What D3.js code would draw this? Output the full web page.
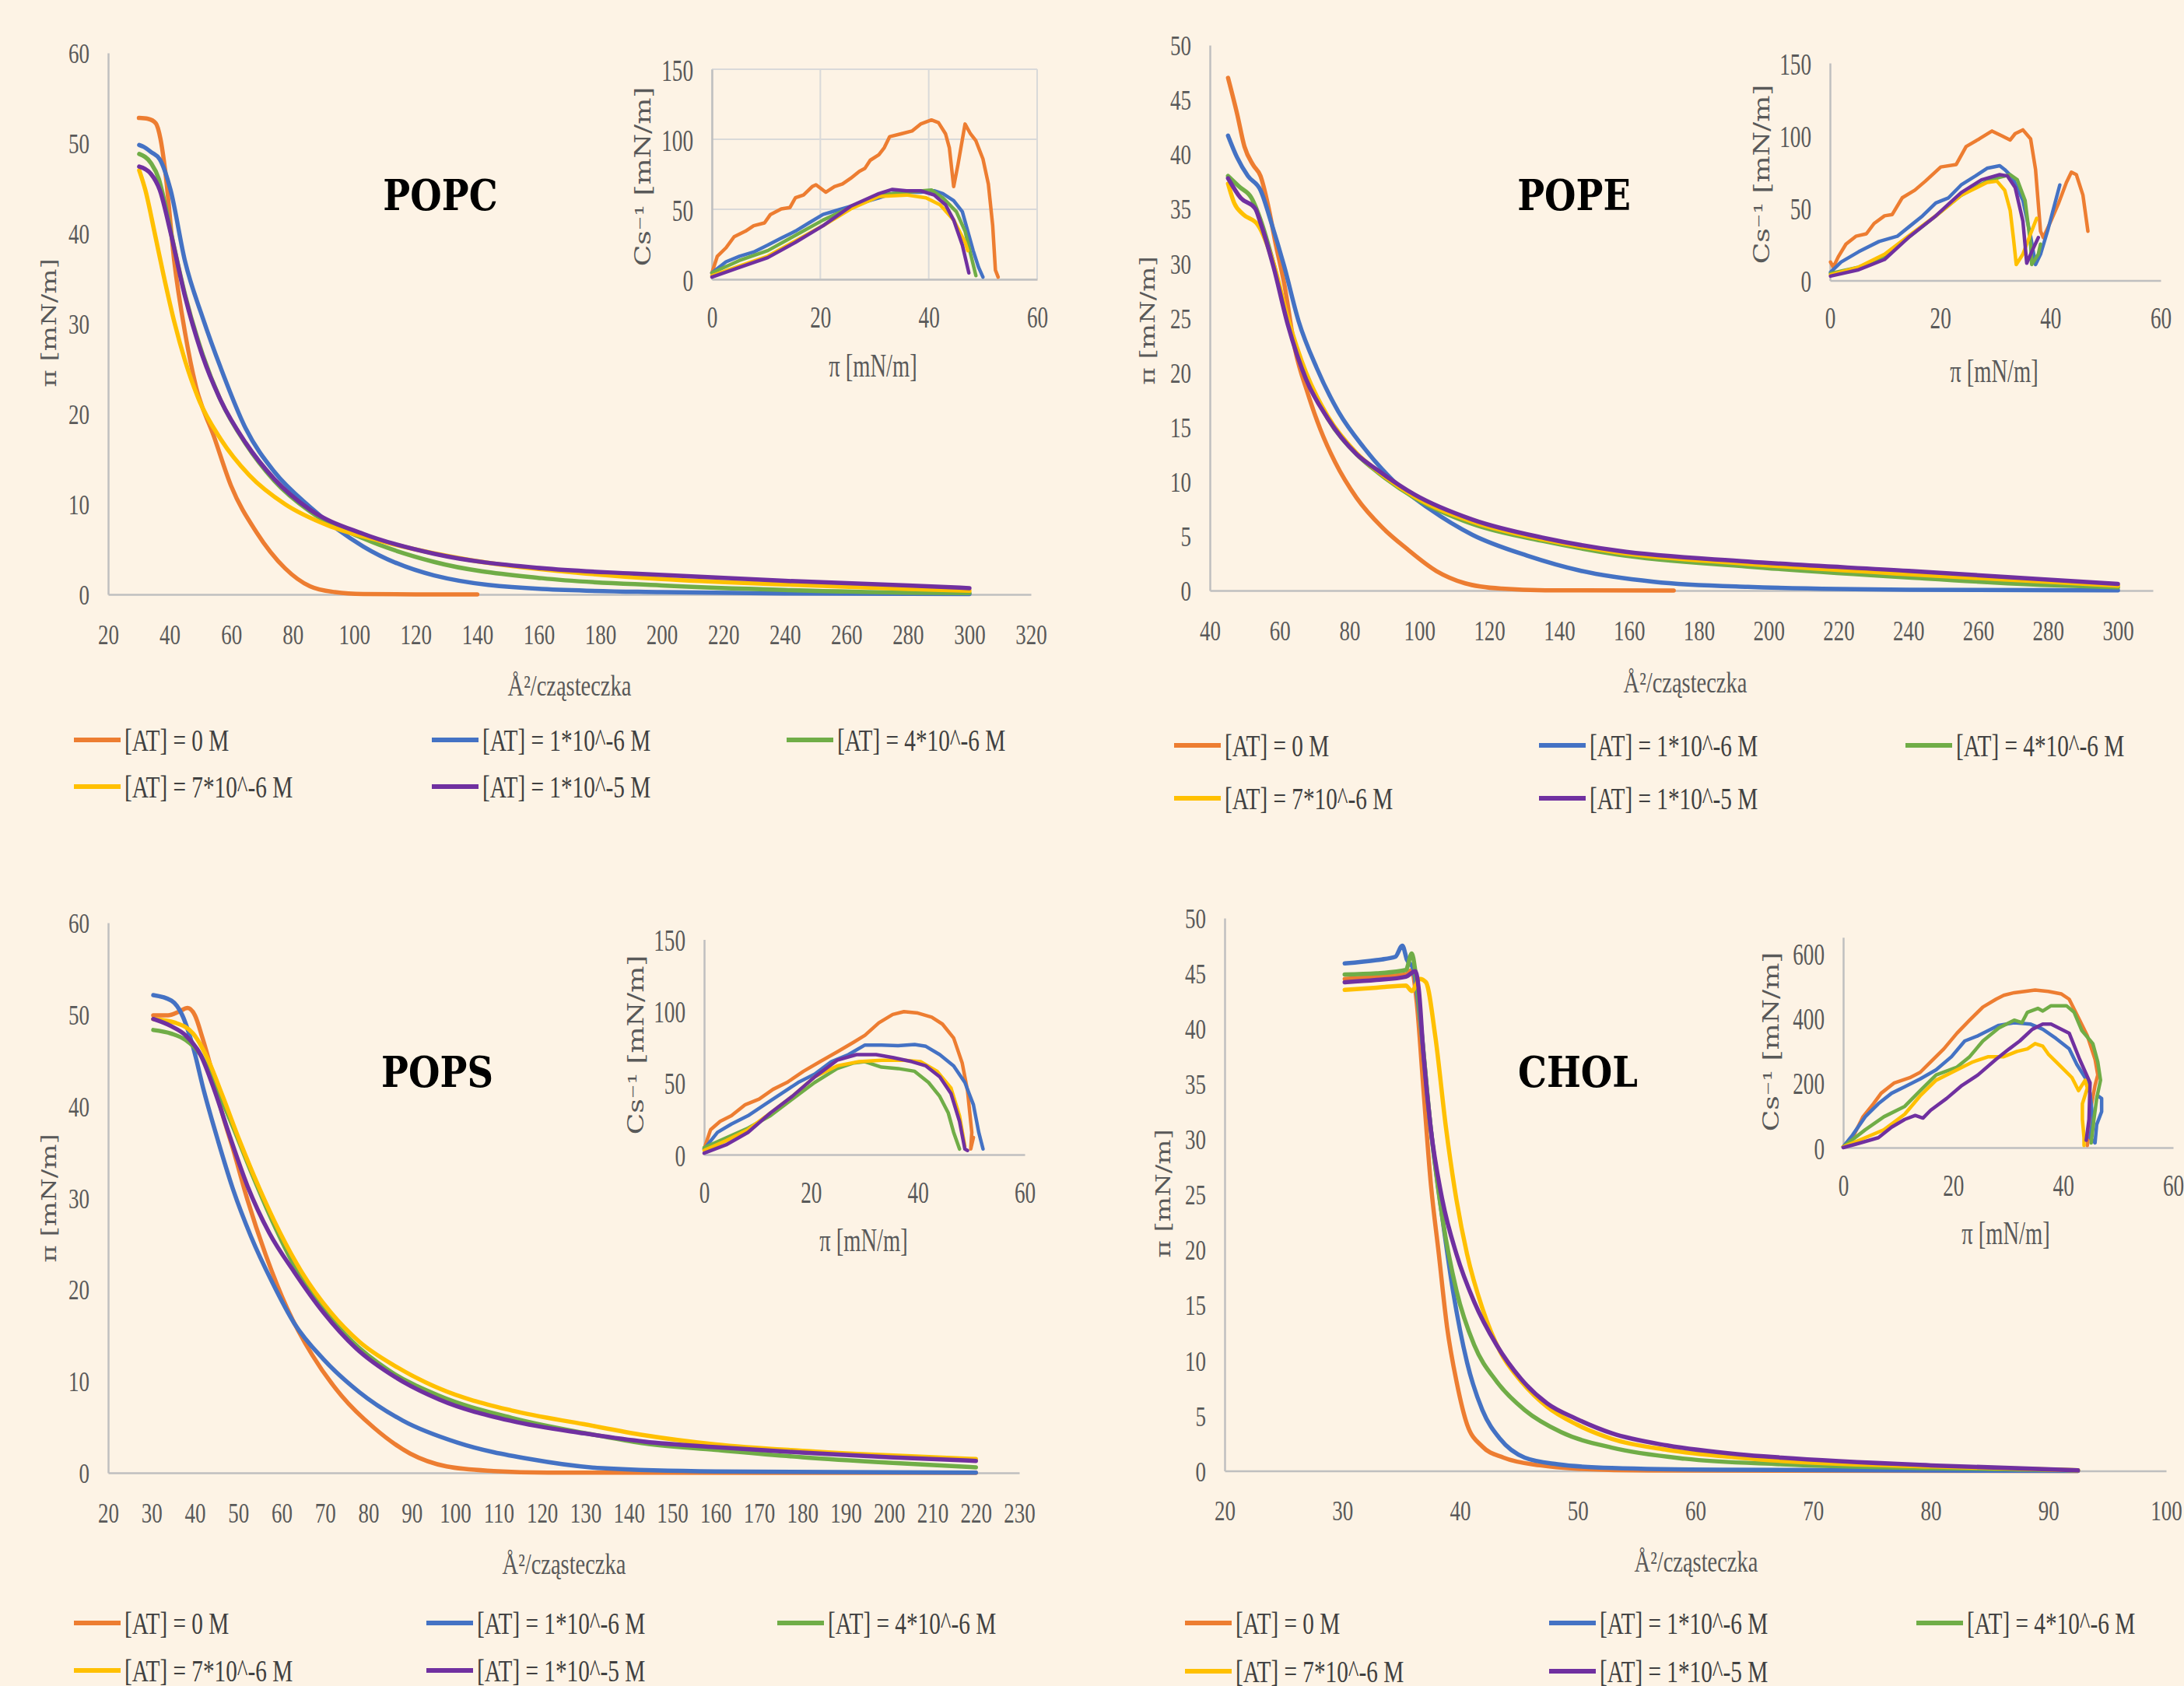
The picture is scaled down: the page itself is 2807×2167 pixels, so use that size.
<!DOCTYPE html>
<html><head><meta charset="utf-8">
<script src="https://cdn.jsdelivr.net/npm/d3@7"></script>
<style>body{margin:0;background:#FDF3E5;} svg{display:block}</style>
</head><body>
<script>
// ---------------- DATA ----------------
const seriesLabels = ["[AT] = 0 M", "[AT] = 1*10^-6 M", "[AT] = 4*10^-6 M", "[AT] = 7*10^-6 M", "[AT] = 1*10^-5 M"];
const seriesColors = ["#ED7D31", "#4472C4", "#70AD47", "#FFC000", "#7030A0"];
const panelNames = ["POPC", "POPE", "POPS", "CHOL"];

const popcXTicks = [20,40,60,80,100,120,140,160,180,200,220,240,260,280,300,320];
const popcYTicks = [0,10,20,30,40,50,60];
const popeXTicks = [40,60,80,100,120,140,160,180,200,220,240,260,280,300];
const popeYTicks = [0,5,10,15,20,25,30,35,40,45,50];
const popsXTicks = [20,30,40,50,60,70,80,90,100,110,120,130,140,150,160,170,180,190,200,210,220,230];
const popsYTicks = [0,10,20,30,40,50,60];
const cholXTicks = [20,30,40,50,60,70,80,90,100];
const cholYTicks = [0,5,10,15,20,25,30,35,40,45,50];
const insetXTicks = [0,20,40,60];
const insetYTicks150 = [0,50,100,150];
const cholInsetYTicks = [0,200,400,600];

// isotherms: [area (Å²/cząsteczka), π (mN/m)]
const popcIso = [
 [[30,52.8],[33,52.7],[35.5,52.2],[37,50.5],[38.6,46.8],[41.5,36.9],[45,29.0],[48.5,23.1],[54.3,17.6],[60,12.0],[68.2,6.9],[77.5,2.9],[85.6,0.9],[93.7,0.26],[103,0.05],[120,0.01],[140,0]],
 [[30.1,49.8],[31.5,49.6],[34,49],[36.8,48.2],[40.3,44.8],[45,36.9],[50.8,30.6],[56.6,25.1],[64.7,18.4],[74,13.6],[85.6,9.7],[103,5.3],[126,2.1],[161,0.6],[200,0.25],[240,0.1],[300,0.05]],
 [[30.1,48.8],[33.9,47.8],[36.5,46],[38,44],[40.3,40.3],[45,33.2],[50.8,26.5],[56.6,21.5],[64.7,16.7],[74,12.6],[85.6,9.2],[103,6.2],[126,3.6],[161,1.8],[200,1.0],[240,0.5],[280,0.2],[300,0.15]],
 [[30.1,47.0],[32.1,44.8],[35.1,40.1],[38,35.4],[41.5,30.2],[45,25.9],[49.6,21.5],[56.6,17.2],[65.9,13.2],[77.5,10.0],[91.4,7.65],[108.8,5.9],[137.9,3.8],[172.7,2.4],[200,1.7],[240,1.1],[280,0.6],[300,0.4]],
 [[30.1,47.4],[33.9,46.6],[36.8,44.8],[40.3,40.1],[45,33.0],[50.8,26.3],[56.6,21.5],[64.7,16.8],[74,12.8],[85.6,9.4],[103,6.7],[126,4.5],[161,2.9],[191,2.3],[240,1.5],[280,1.0],[300,0.7]]
];
// compressibility modulus: [π, Cs^-1]
const popcCs = [
 [[0,4.6],[1,16.5],[2.6,22.5],[4.1,30.4],[6.2,34.4],[7.7,38.3],[9.7,40.3],[10.8,46.3],[12.8,50.3],[14.4,51.3],[15.4,58.2],[16.9,60.2],[18.5,66.2],[19.2,67.5],[21,62.2],[22.6,66.2],[24.1,68.1],[25.6,72.1],[27.2,77.1],[28.2,79.1],[29.2,85],[30.8,89],[31.8,94],[32.8,101.9],[34.9,103.9],[36.9,105.9],[38.5,110.9],[40.5,113.8],[41.8,111.9],[43.1,103.9],[43.8,94],[44.6,66.2],[45.4,82],[46.7,110.9],[47.7,103.9],[48.7,98.9],[50,86],[51,68.1],[51.8,38.3],[52.3,6.6],[52.8,1.6]],
 [[0,4.6],[2.6,12.5],[5.1,16.5],[7.7,19.5],[10.3,24.4],[12.8,29.4],[15.4,34.4],[17.9,40.3],[20.5,46.3],[23.1,49.3],[25.6,52.2],[28.2,55.2],[30.8,58.2],[33.3,61.2],[35.9,62.2],[38.5,62.2],[41,63.2],[42.6,61.2],[44.6,56.2],[46.2,48.3],[47.2,34.4],[48.2,20.5],[49.2,8.5],[50,1.6]],
 [[0,4.6],[5.1,13.5],[10.3,20.5],[15.4,31.4],[20.5,42.3],[25.6,51.3],[30.8,60.2],[35.9,62.2],[40.5,63.8],[42.6,58.2],[45.1,48.3],[46.7,34.4],[47.7,18.5],[48.7,2.6]],
 [[0,2.6],[5.1,9.5],[10.3,16.5],[15.4,27.4],[20.5,38.3],[25.6,50.3],[30.8,59.2],[35.9,60.2],[39.5,58.2],[42.1,53.2],[44.6,42.3],[46.7,26.4],[47.2,20.5]],
 [[0,1.6],[5.1,8.5],[10.3,15.5],[15.4,26.4],[20.5,38.3],[25.6,52.2],[30.8,61.2],[33.3,64.2],[35.9,63.2],[38.5,63.2],[41,60.2],[43.1,53.2],[44.6,42.3],[46.2,24.4],[47.4,4.6]]
];

const popeIso = [
 [[45.2,47],[47.8,43.7],[49.9,40.7],[52.4,39],[54.5,38],[56.6,35.4],[58.7,32],[61.3,28.1],[64.4,22.1],[68,18.1],[71.6,14.8],[75.8,11.8],[82,8.5],[89.3,5.8],[96.5,3.8],[104.8,1.8],[113.1,0.66],[123.5,0.17],[136,0.02],[172.8,0]],
 [[45.2,41.7],[47.8,39.7],[50.9,38],[54.5,36.7],[57.6,33.7],[61.3,29.7],[65.4,24.7],[70.6,20.4],[76.8,16.4],[84.1,13.1],[92.4,10.1],[102.8,7.5],[115.2,5.1],[130.8,3.2],[146.3,1.8],[167.1,0.8],[194,0.33],[240,0.08],[300,0.02]],
 [[45.2,38],[48.5,37],[51.9,36],[54.5,34],[58.2,30],[62.3,24.7],[67.5,19.8],[73.7,15.8],[82,12.5],[88.2,10.8],[98.6,8.5],[115.2,6.1],[136,4.5],[156.7,3.3],[194,2.2],[240,1.2],[280,0.5],[300,0.3]],
 [[45.2,37.3],[47,35.5],[49.5,34.5],[53.8,33.5],[58.2,30],[62.3,25],[67.5,20],[73.7,16],[82,12.6],[88.2,10.9],[98.6,8.6],[115.2,6.3],[136,4.65],[156.7,3.5],[194,2.45],[240,1.5],[280,0.8],[300,0.45]],
 [[45.2,37.8],[48.8,36],[53,35],[54.5,33.7],[58.2,29.7],[62.3,24.4],[67.5,19.4],[73.7,15.8],[82,12.5],[88.2,11],[98.6,8.8],[115.2,6.5],[136,4.8],[156.7,3.65],[194,2.66],[240,1.8],[280,1.0],[300,0.6]]
];
const popeCs = [
 [[0.1,12.7],[0.6,9.2],[1.5,16.3],[2.9,25.1],[4.7,30.5],[6.6,32.2],[8,39.3],[9.9,44.6],[11.3,45.5],[13.1,57],[15.4,62.3],[17.3,68.5],[20.1,78.3],[22.9,80],[24.7,92.4],[27.1,97.7],[29.4,103.1],[31.3,99.5],[32.7,96.9],[33.6,101.3],[35,103.9],[36.4,97.7],[37.3,76.5],[38.2,34],[38.7,29.6],[40.1,41.1],[41.5,53.5],[42.9,67.6],[43.8,74.7],[44.7,73],[45.9,58.8],[46.8,34]],
 [[0.1,5.7],[2,12.7],[5.2,19.8],[8.9,26.9],[12.2,30.5],[14.5,37.5],[16.8,44.6],[19.2,53.5],[21.5,57],[23.8,65.9],[26.4,72.1],[28.5,77.4],[30.8,79.2],[31.7,76.5],[33.1,71.2],[35,55.2],[36.4,30.5],[37.3,11],[38.2,18.1],[39.6,35.8],[41.7,65.9]],
 [[0.1,4.8],[5.2,9.2],[9.9,16.3],[14.5,30.5],[19.2,44.6],[23.8,58.8],[28.5,68.5],[30.8,71.2],[32.7,73],[34,69.4],[35.4,55.2],[36.4,25.1],[36.6,11],[37.8,18.1],[38.2,25.1]],
 [[0.1,3.9],[5.2,9.2],[9.9,18.1],[14.5,31.4],[19.2,44.6],[23.8,58.8],[28.5,67.6],[30.3,68.5],[31.7,62.3],[32.7,48.2],[33.3,28.7],[33.8,11],[35,18.1],[36.4,32.2],[37.5,42.9]],
 [[0.1,3],[5.2,7.4],[9.9,14.5],[14.5,30.5],[19.2,44.6],[23.8,60.6],[27.5,69.4],[30.8,73],[32.2,72.1],[33.6,64.1],[35,41.1],[35.7,11.9],[36.6,19.8],[37.8,29.6]]
];

const popsIso = [
 [[30.4,49.9],[33.8,49.9],[36.3,50.3],[38.3,50.7],[40,49.9],[41.7,47.5],[43.8,44],[46.3,39.2],[48.8,35.3],[52.1,29.8],[56.3,23.8],[61.3,17.9],[67.1,12.8],[73.8,8.4],[81.3,4.9],[89.6,2.1],[98,0.7],[108.8,0.2],[121.3,0.02],[220,0]],
 [[30.4,52.1],[34.6,51.5],[37.1,49.9],[39.6,46.4],[42.1,41.6],[45.4,36.1],[48.8,30.9],[52.9,25.8],[57.9,20.7],[62.9,16.3],[69.6,12.4],[77.9,8.8],[87.9,5.7],[100.5,3.3],[117.2,1.5],[133.8,0.5],[160,0.15],[220,0.02]],
 [[30.4,48.3],[34.6,47.9],[37.9,47.2],[41.3,45.6],[44.6,42.4],[48.8,37.7],[52.9,32.9],[57.9,27.4],[62.9,22.6],[69.6,17.9],[76.3,14.3],[84.6,11.2],[96.3,8.4],[113,6.0],[133.8,4.0],[143.7,3.2],[160,2.5],[180,1.7],[200,1.1],[220,0.6]],
 [[30.4,49.5],[35.4,49.1],[39.6,47.9],[42.9,45.2],[46.3,41.2],[50.4,36.1],[54.6,31.3],[59.6,26.2],[64.6,21.9],[71.3,17.5],[77.9,14.3],[86.3,11.6],[96.3,9.2],[113,6.8],[129.7,5.3],[143.7,4.1],[160,3.1],[180,2.4],[200,1.9],[220,1.5]],
 [[30.4,49.5],[34.6,48.7],[37.9,47.7],[41.3,45.6],[44.6,41.6],[47.9,36.9],[52.1,31.3],[57.1,26.2],[62.9,21.9],[69.6,17.5],[77.1,13.6],[86.3,10.4],[96.3,8.0],[113,5.65],[129.7,4.3],[143.7,3.4],[160,2.8],[180,2.2],[200,1.7],[220,1.3]]
];
const popsCs = [
 [[0,3.9],[1.2,17.4],[3,23.2],[5.1,27.1],[7.7,34.8],[10.3,38.7],[12.9,45.5],[15.5,50.3],[18.6,58.1],[21.7,64.8],[24.9,71.6],[28,78.4],[30.1,83.2],[32.7,91.9],[35.3,97.7],[37.4,99.7],[40,98.7],[42.6,95.8],[44.6,91],[46.7,81.3],[48.3,63.9],[49.3,44.5],[50.1,15.5],[49.9,3.9],[50.4,12]],
 [[0,3.9],[2.5,15.5],[5.1,21.3],[8.2,27.1],[11.3,34.8],[14.5,42.6],[17.6,50.3],[20.7,56.1],[23.8,64.8],[27,69.7],[30.1,76.4],[33.2,76.4],[36.3,75.9],[39.4,76.8],[41.5,75.5],[44.1,69.7],[46.7,61.9],[48.8,50.3],[50.4,34.8],[51.4,15.5],[52.2,3.9]],
 [[0,4.8],[4.1,11.6],[8.2,18.4],[12.4,27.1],[16.5,38.7],[20.7,50.3],[24.9,60],[28,63.9],[30.1,64.8],[33.2,61],[36.3,60],[39.4,58.1],[42,50.3],[44.1,40.6],[45.7,29],[46.7,15.5],[47.8,3.9]],
 [[0,2.9],[4.1,9.7],[8.2,17.4],[12.4,29],[16.5,40.6],[20.7,54.2],[24.9,61.9],[29,64.8],[33.2,65.8],[37.4,65.8],[40.5,64.8],[43.6,58.1],[46.2,46.4],[47.8,27.1],[48.8,5.8]],
 [[0,1],[4.1,6.8],[8.2,15.5],[12.4,29],[16.5,40.6],[20.7,54.2],[24.9,65.8],[28.5,69.7],[32.2,69.7],[35.3,67.7],[38.9,64.8],[41.5,61.9],[44.1,54.2],[46.2,42.6],[47.8,23.2],[48.8,3.9],[49.3,2.9]]
];

const cholIso = [
 [[30.2,44.5],[32.9,44.7],[35.4,44.9],[35.9,45.3],[36.3,42.6],[36.9,34.4],[37.5,26.2],[38.2,19.6],[38.9,13],[39.7,8.1],[40.6,4.2],[41.9,2.2],[43.7,1.2],[46.8,0.5],[49.9,0.2],[56,0.03],[92.5,0]],
 [[30.2,45.9],[32.9,46.2],[34.5,46.5],[35.1,47.5],[35.5,46.2],[36,45.5],[36.6,40.9],[37.5,31.1],[38.5,22.9],[39.4,16.3],[40.6,9.8],[41.9,5.5],[43.4,2.9],[45.5,1.2],[48.3,0.6],[52.9,0.26],[62.2,0.1],[92.5,0]],
 [[30.2,44.9],[32.9,45],[35.4,45.3],[35.9,46.8],[36.2,45.2],[36.6,41.2],[37.5,31.1],[38.5,22.9],[39.7,16.3],[41.2,11.4],[43.1,8.1],[45.5,5.5],[48.6,3.5],[52.9,2.1],[59.1,1.1],[67.3,0.6],[80,0.25],[92.5,0.05]],
 [[30.2,43.5],[32.9,43.7],[35.4,43.9],[35.9,43.4],[36.6,44.5],[37.1,44.2],[37.9,39.3],[38.8,31.1],[39.7,24.5],[40.6,19.6],[41.9,14.7],[43.4,10.8],[45.2,8.1],[47.4,5.8],[49.9,4.2],[52.9,2.9],[57.6,1.9],[63.7,1.2],[67.3,0.9],[80,0.4],[92.5,0.05]],
 [[30.2,44.2],[32.9,44.4],[35.4,44.7],[36.2,45.2],[36.5,43.5],[36.9,37.6],[37.5,31.1],[38.5,24.5],[39.7,19.6],[41.2,15.3],[43.1,11.4],[45.2,8.3],[47.4,6.1],[49.9,4.7],[52.9,3.4],[57.6,2.3],[63.7,1.5],[67.3,1.2],[80,0.5],[92.5,0.05]]
];
const cholCs = [
 [[0,2.4],[1.7,30.7],[3.6,95.3],[5.5,135.7],[6.9,168],[9.3,200],[12.1,216],[14,232.6],[15.9,264.9],[18.3,305],[20.7,353.7],[23,394],[25.4,434.4],[27.8,458.7],[29.2,470.8],[31.1,478.8],[34.9,486.9],[37.3,482.9],[39.7,474.8],[41.1,458.7],[43,394],[44.4,345.6],[45.8,273],[46.3,224.5],[45.8,192.2],[45.1,127.6],[44.7,46.8],[44.4,6.5]],
 [[0,2.4],[1.7,38.8],[4,95.3],[6.4,135.7],[8.8,168],[11.2,188.1],[14,212.4],[16.9,240.6],[19.7,281],[22.1,329.5],[24.5,345.6],[26.4,361.8],[28.3,377.9],[31.1,386],[34,382],[36.3,365.8],[38.7,337.5],[41.1,305.2],[42.5,256.8],[44,216.4],[44.9,168],[45.4,87.2],[44.9,30.7],[45.8,14.5],[46.1,71],[47,111.4],[47,151.8],[46.3,160]],
 [[0,2.4],[4,55],[7.4,95.3],[11.2,127.6],[14,176],[16.9,224.5],[20.7,248.7],[23,281],[25.4,329.5],[28.3,369.8],[31.1,394],[32.5,386],[33.5,418.3],[35.4,430.4],[36.3,422.3],[37.8,438.5],[40.6,438.5],[42,418.3],[43.4,361.8],[45.4,321.4],[46.3,264.9],[46.8,208.3],[46.1,151.8],[45.6,87.2],[45.1,14.5]],
 [[0,2.4],[4,30.7],[7.4,55],[11.2,103.4],[14,160],[16.9,208.3],[20.7,240.6],[23.6,264.9],[26.4,281],[29.2,281],[31.6,297.2],[33.5,305.2],[34.9,321.4],[36.3,313.3],[37.3,289.1],[39.7,248.7],[41.6,216.4],[42.8,176],[44,208.3],[44.4,184.1],[43.5,135.7],[43.5,87.2],[43.8,30.7],[43.8,6.5]],
 [[0,0],[3.1,14.5],[6.4,30.7],[8.8,63],[11.2,87.2],[13.1,99.3],[14.5,91.2],[15.9,115.5],[18.8,151.8],[21.6,192.2],[24.5,224.5],[27.8,272.9],[30.2,305.2],[32.1,329.5],[34.4,365.8],[36.3,382],[37.8,382],[39.2,369.8],[41.1,353.7],[43,273],[44.9,200.3],[44.7,87.2],[44.2,22.6]]
];

// ---------------- LAYOUT / STYLE ----------------
const W = 2807, H = 2167;
const BG = "#FDF3E5", AXIS = "#BFBFBF", GRID = "#D9D9D9", TICK = "#595959", LEG = "#404040";
const SERIF = "'Liberation Serif', 'Times New Roman', serif";
const DSERIF = "'DejaVu Serif', serif";
const SX = 0.75, SXI = 0.68;

const layout = [
 { iso: popcIso, cs: popcCs, xt: popcXTicks, yt: popcYTicks, xd:[20,320], yd:[0,60], xr:[139,1325], yr:[764,68],
   ix:[915,1333], iy:[359,89], iyd:[0,150], iyt: insetYTicks150, grid:true,
   title:[566,251], xtitle:[732,881], ytitle:[63,415], ixtitle:[1122,469], iytitle:[827,227],
   leg:{rows:[951,1011], cols:[95,555,1011]} },
 { iso: popeIso, cs: popeCs, xt: popeXTicks, yt: popeYTicks, xd:[40,310], yd:[0,50], xr:[1555,2767], yr:[759,58],
   ix:[2352,2777], iy:[360.5,81], iyd:[0,150], iyt: insetYTicks150, grid:false,
   title:[2023,251], xtitle:[2166,877], ytitle:[1475,412], ixtitle:[2563,476], iytitle:[2265,224],
   leg:{rows:[958,1026], cols:[1509,1978,2449]} },
 { iso: popsIso, cs: popsCs, xt: popsXTicks, yt: popsYTicks, xd:[20,230], yd:[0,60], xr:[139,1310], yr:[1893,1186],
   ix:[905,1317], iy:[1484,1207.5], iyd:[0,150], iyt: insetYTicks150, grid:false,
   title:[562,1378], xtitle:[725,2010], ytitle:[63,1540], ixtitle:[1110,1593], iytitle:[818,1343],
   leg:{rows:[2086,2147], cols:[95,548,999]} },
 { iso: cholIso, cs: cholCs, xt: cholXTicks, yt: cholYTicks, xd:[20,100], yd:[0,50], xr:[1574,2784], yr:[1890.5,1180],
   ix:[2369,2793], iy:[1475,1204.7], iyd:[0,650], iyt: cholInsetYTicks, grid:false,
   title:[2028,1378], xtitle:[2180,2007], ytitle:[1495,1534], ixtitle:[2578,1584], iytitle:[2277,1339],
   leg:{rows:[2086,2148], cols:[1523,1991,2463]} }
];

// ---------------- DRAW ----------------
const svg = d3.select("body").append("svg").attr("width", W).attr("height", H);
svg.append("rect").attr("width", W).attr("height", H).attr("fill", BG);

function label(g, x, y, s, o) {
  const t = g.append("text")
    .attr("transform", `translate(${x},${y}) scale(${o.sx ?? SX},1)` + (o.rot ? ` rotate(${o.rot})` : ""))
    .attr("text-anchor", o.anchor || "middle")
    .attr("dy", "0.35em")
    .attr("fill", o.fill || TICK)
    .style("font-family", o.family || SERIF)
    .style("font-size", o.size + "px")
    .style("font-weight", o.weight || "normal")
    .text(s);
  return t;
}

function axes(g, x, y, xt, yt, o) {
  const xa = g.append("g").attr("transform", `translate(0,${y.range()[0]})`)
    .call(d3.axisBottom(x).tickValues(xt).tickSize(0).tickSizeOuter(0).tickPadding(0).tickFormat(d3.format("d")));
  xa.select(".domain").attr("stroke", AXIS).attr("stroke-width", o.aw);
  xa.selectAll("text").attr("y", o.xgap).attr("dy", "0.35em").attr("transform", `scale(${o.sx},1)`)
    .attr("fill", TICK).style("font-family", SERIF).style("font-size", o.fs + "px");
  const ya = g.append("g").attr("transform", `translate(${x.range()[0]},0)`)
    .call(d3.axisLeft(y).tickValues(yt).tickSize(0).tickSizeOuter(0).tickPadding(0).tickFormat(d3.format("d")));
  ya.select(".domain").attr("stroke", AXIS).attr("stroke-width", o.aw);
  ya.selectAll("text").attr("x", -o.ygap / o.sx).attr("dy", "0.35em").attr("transform", `scale(${o.sx},1)`)
    .attr("fill", TICK).style("font-family", SERIF).style("font-size", o.fs + "px");
}

layout.forEach((p, pi) => {
  const g = svg.append("g");
  // ---- main isotherm ----
  const x = d3.scaleLinear().domain(p.xd).range(p.xr);
  const y = d3.scaleLinear().domain(p.yd).range(p.yr);
  axes(g, x, y, p.xt, p.yt, { aw: 2.5, xgap: 51, ygap: 24, fs: 36, sx: SX });
  const line = d3.line().x(d => x(d[0])).y(d => y(d[1])).curve(d3.curveMonotoneX);
  p.iso.forEach((s, si) => {
    g.append("path").datum(s).attr("d", line).attr("fill", "none")
      .attr("stroke", seriesColors[si]).attr("stroke-width", 5.5)
      .attr("stroke-linejoin", "round").attr("stroke-linecap", "round");
  });
  label(g, p.xtitle[0], p.xtitle[1], "Å²/cząsteczka", { size: 38 });
  label(g, p.ytitle[0], p.ytitle[1], "π [mN/m]", { size: 34, rot: -90, family: DSERIF });
  label(g, p.title[0], p.title[1], panelNames[pi], { size: 54, sx: 0.86, weight: "bold", family: DSERIF, fill: "#000" });

  // ---- inset ----
  const ix = d3.scaleLinear().domain([0, 60]).range(p.ix);
  const iy = d3.scaleLinear().domain(p.iyd).range(p.iy);
  if (p.grid) {
    insetXTicks.forEach(t => g.append("line").attr("x1", ix(t)).attr("x2", ix(t)).attr("y1", iy.range()[0]).attr("y2", iy(p.iyt[p.iyt.length-1]))
      .attr("stroke", GRID).attr("stroke-width", 2));
    p.iyt.forEach(t => g.append("line").attr("x1", ix.range()[0]).attr("x2", ix.range()[1]).attr("y1", iy(t)).attr("y2", iy(t))
      .attr("stroke", GRID).attr("stroke-width", 2));
  }
  axes(g, ix, iy, insetXTicks, p.iyt, { aw: 2.5, xgap: 48, ygap: 24, fs: 40, sx: SXI });
  const iline = d3.line().x(d => ix(d[0])).y(d => iy(d[1]));
  p.cs.forEach((s, si) => {
    g.append("path").datum(s).attr("d", iline).attr("fill", "none")
      .attr("stroke", seriesColors[si]).attr("stroke-width", 4.5)
      .attr("stroke-linejoin", "round").attr("stroke-linecap", "round");
  });
  label(g, p.ixtitle[0], p.ixtitle[1], "π [mN/m]", { size: 42, sx: SXI });
  label(g, p.iytitle[0], p.iytitle[1], "Cs⁻¹ [mN/m]", { size: 36, rot: -90, family: DSERIF });

  // ---- legend ----
  seriesLabels.forEach((lab, si) => {
    const col = si % 3, row = Math.floor(si / 3);
    const lx = p.leg.cols[col], ly = p.leg.rows[row];
    g.append("line").attr("x1", lx).attr("x2", lx + 60).attr("y1", ly).attr("y2", ly)
      .attr("stroke", seriesColors[si]).attr("stroke-width", 6);
    label(g, lx + 65, ly, lab, { size: 39, anchor: "start", fill: LEG });
  });
});
</script>
</body></html>
